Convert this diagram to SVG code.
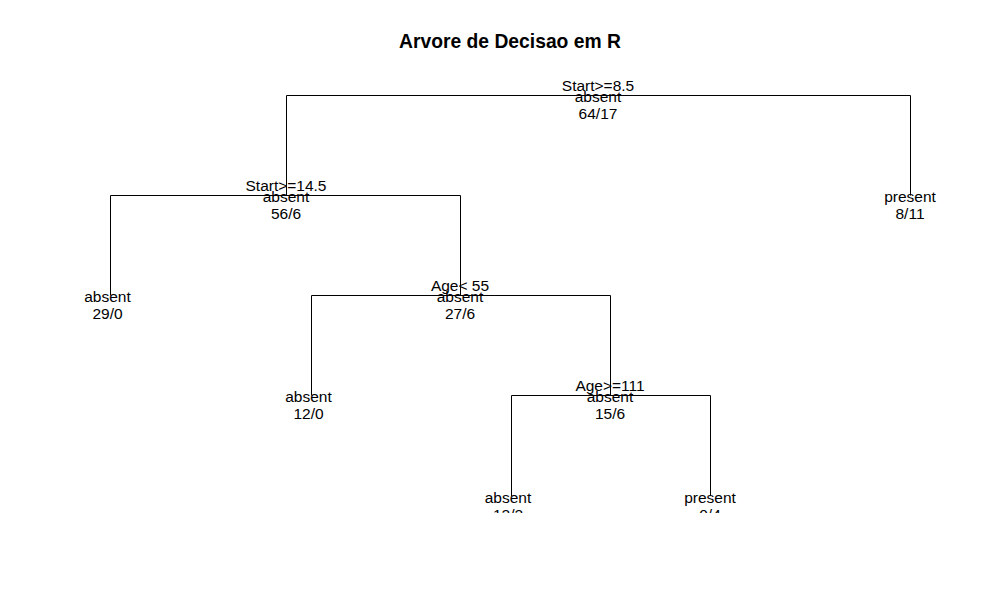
<svg xmlns="http://www.w3.org/2000/svg" width="983" height="610" viewBox="0 0 983 610">
<style>
.t{font-family:"Liberation Sans",Arial,sans-serif;font-size:15.5px;fill:#000;text-anchor:middle}
.title{font-family:"Liberation Sans",Arial,sans-serif;font-size:19.3px;font-weight:bold;fill:#000;text-anchor:middle}
.e{stroke:#000;stroke-width:1;fill:none}
</style>
<defs><clipPath id="plot"><rect x="0" y="0" width="983" height="513"/></clipPath></defs>
<rect width="983" height="610" fill="#fff"/>
<text class="title" x="510" y="47.5">Arvore de Decisao em R</text>
<g id="connectors" clip-path="url(#plot)">
<path class="e" d="M286.5 195.5V95.5H910.5V195.5"/>
<path class="e" d="M110.5 295.5V195.5H460.5V295.5"/>
<path class="e" d="M311.5 395.5V295.5H610.5V395.5"/>
<path class="e" d="M511.5 496V395.5H710.5V496"/>
</g>
<g clip-path="url(#plot)">
<g id="n-root"><text class="t" x="598" y="91">Start&gt;=8.5</text><text class="t" x="598" y="101.5">absent</text><text class="t" x="598" y="119">64/17</text></g>
<g id="n-L"><text class="t" x="286" y="191">Start&gt;=14.5</text><text class="t" x="286" y="201.5">absent</text><text class="t" x="286" y="219">56/6</text></g>
<g id="n-R"><text class="t" x="910" y="201.5">present</text><text class="t" x="910" y="219">8/11</text></g>
<g id="n-LL"><text class="t" x="107.5" y="301.5">absent</text><text class="t" x="107.5" y="319">29/0</text></g>
<g id="n-LR"><text class="t" x="460" y="291">Age&lt; 55</text><text class="t" x="460" y="301.5">absent</text><text class="t" x="460" y="319">27/6</text></g>
<g id="n-LRL"><text class="t" x="308.5" y="401.5">absent</text><text class="t" x="308.5" y="419">12/0</text></g>
<g id="n-LRR"><text class="t" x="610" y="391">Age&gt;=111</text><text class="t" x="610" y="401.5">absent</text><text class="t" x="610" y="419">15/6</text></g>
<g id="n-LRRL"><text class="t" x="508" y="502.5">absent</text><text class="t" x="508" y="520">12/2</text></g>
<g id="n-LRRR"><text class="t" x="710" y="502.5">present</text><text class="t" x="710" y="520">0/4</text></g>
</g>
</svg>
